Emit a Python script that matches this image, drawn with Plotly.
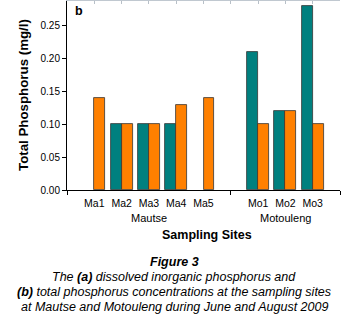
import plotly.graph_objects as go

sites = ["Ma1", "Ma2", "Ma3", "Ma4", "Ma5", "Mo1", "Mo2", "Mo3"]
site_pos = [1, 2, 3, 4, 5, 7, 8, 9]
groups = ["Mautse", "Motouleng"]
group_pos = [3, 8]
group_bounds = [0, 6, 10]
june = [None, 0.10, 0.10, 0.10, None, 0.21, 0.12, 0.28]
august = [0.14, 0.10, 0.10, 0.13, 0.14, 0.10, 0.12, 0.10]
y_ticks = [0.00, 0.05, 0.10, 0.15, 0.20, 0.25]

FONT = "Arial, Liberation Sans, sans-serif"
TEAL = "#00807f"
ORANGE = "#ff8000"

fig = go.Figure()
fig.add_trace(go.Bar(x=site_pos, y=june, width=0.4, offset=-0.4, name="June",
                     marker=dict(color=TEAL, line=dict(color="#333333", width=0.8))))
fig.add_trace(go.Bar(x=site_pos, y=august, width=0.4, offset=0, name="August",
                     marker=dict(color=ORANGE, line=dict(color="#333333", width=0.8))))
# invisible traces to activate helper axes
fig.add_trace(go.Scatter(x=[None], y=[None], xaxis="x2", showlegend=False))
fig.add_trace(go.Scatter(x=[None], y=[None], xaxis="x3", showlegend=False))

fig.update_layout(
    width=346, height=317,
    margin=dict(l=67, r=6, t=1, b=127),
    paper_bgcolor="white", plot_bgcolor="white",
    showlegend=False,
    font=dict(family=FONT, color="black"),
    xaxis=dict(range=[0, 10], tickvals=site_pos, ticktext=sites, ticks="",
               showline=True, linecolor="black", linewidth=1, showgrid=False,
               zeroline=False, ticklabelstandoff=3, tickfont=dict(size=10.5, family=FONT)),
    xaxis2=dict(range=[0, 10], overlaying="x", anchor="y", side="bottom",
                tickvals=group_bounds, ticks="outside", ticklen=4, tickcolor="black",
                showticklabels=False, showline=False, showgrid=False, zeroline=False),
    xaxis3=dict(range=[0, 10], overlaying="x", anchor="y", side="top",
                tickvals=list(range(1, 10)), ticks="inside", ticklen=3,
                tickcolor="#b8c0c8", showticklabels=False, showline=True,
                linecolor="#c0c8d0", linewidth=1, showgrid=False, zeroline=False),
    yaxis=dict(range=[0, 0.288], tickvals=y_ticks, tickformat=".2f", ticks="outside",
               ticklen=4, tickcolor="black", showline=True, linecolor="black",
               linewidth=1, showgrid=False, zeroline=False,
               tickfont=dict(size=10, family=FONT)),
    bargap=0,
)

def ypaper(pix):
    return (190 - pix) / 189

def xpaper(pix):
    return (pix - 67) / 273

common = dict(showarrow=False, xanchor="center", yanchor="middle")
ann = []
ann.append(dict(text="<b>Total Phosphorus (mg/l)</b>", x=xpaper(23), y=ypaper(95),
                xref="paper", yref="paper", textangle=-90,
                font=dict(size=13.3, family=FONT), **common))
for g, p in zip(groups, group_pos):
    ann.append(dict(text=g, x=p, y=ypaper(218), xref="x", yref="paper",
                    font=dict(size=11, family=FONT), **common))
ann.append(dict(text="<b>Sampling Sites</b>", x=xpaper(207), y=ypaper(235),
                xref="paper", yref="paper", font=dict(size=12.5, family=FONT), **common))
ann.append(dict(text="<b>b</b>", x=xpaper(79), y=ypaper(11), xref="paper", yref="paper",
                font=dict(size=12.5, family=FONT), **common))
ann.append(dict(text="<b><i>Figure 3</i></b>", x=xpaper(174), y=ypaper(262),
                xref="paper", yref="paper", font=dict(size=12.5, family=FONT), **common))
caption = [
    "<i>The <b>(a)</b> dissolved inorganic phosphorus and</i>",
    "<i><b>(b)</b> total phosphorus concentrations at the sampling sites</i>",
    "<i>at Mautse and Motouleng during June and August 2009</i>",
]
for line, yp in zip(caption, [277, 292, 307]):
    ann.append(dict(text=line, x=xpaper(174), y=ypaper(yp), xref="paper", yref="paper",
                    font=dict(size=12.5, family=FONT), **common))
fig.update_layout(annotations=ann)

fig.write_html("out.html", config={"displayModeBar": False},
               post_script="document.body.style.margin='0px';")
